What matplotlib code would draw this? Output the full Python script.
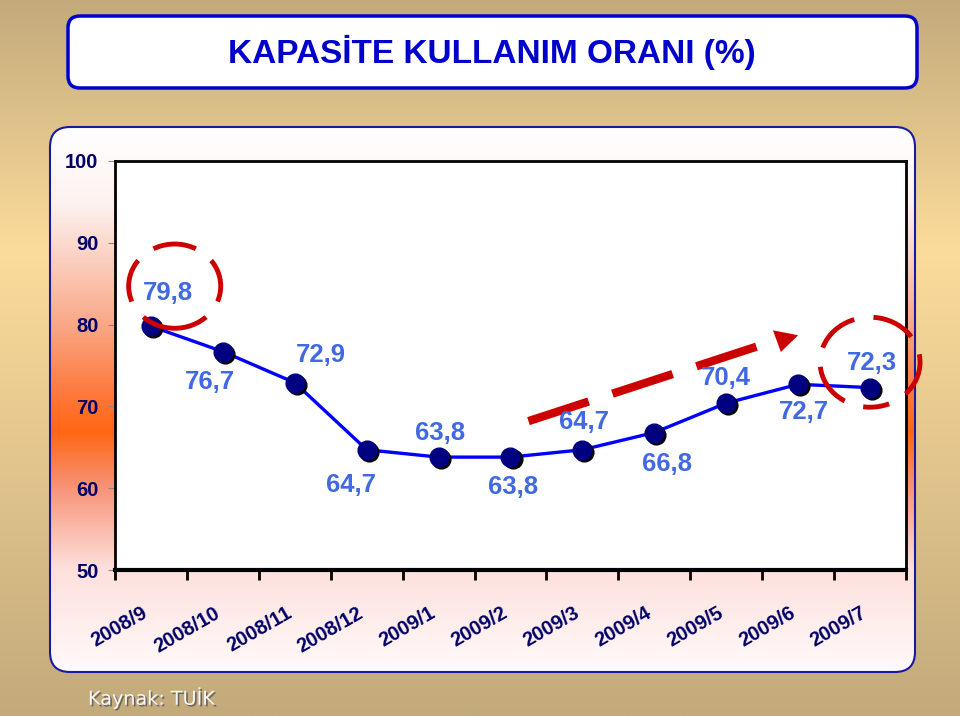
import numpy as np
import matplotlib.pyplot as plt
import matplotlib.patheffects as pe
from matplotlib.patches import FancyBboxPatch, Ellipse, Polygon
from matplotlib.colors import to_rgb
import matplotlib.transforms as mtransforms

months = ['2008/9', '2008/10', '2008/11', '2008/12', '2009/1', '2009/2',
          '2009/3', '2009/4', '2009/5', '2009/6', '2009/7']
usage = [79.8, 76.7, 72.9, 64.7, 63.8, 63.8, 64.7, 66.8, 70.4, 72.7, 72.3]
value_labels = ['79,8', '76,7', '72,9', '64,7', '63,8', '63,8',
                '64,7', '66,8', '70,4', '72,7', '72,3']
yticks = [50, 60, 70, 80, 90, 100]

# label offsets in pixels (dx, dy up positive)
label_offsets = [(17, 33), (-13, -30), (26, 28), (-16, -35), (1, 24), (3, -30),
                 (2, 28), (13, -31), (0, 25), (6, -28), (2, 25)]

W, H = 960, 716
FONT = ['Liberation Sans Narrow', 'Arial Narrow', 'Liberation Sans', 'DejaVu Sans']


def fx(px):
    return px / W


def fy(py):
    return 1 - py / H


def gradient(stops, colors, n=400):
    t = np.linspace(0, 1, n)
    rgb = np.array([to_rgb(c) for c in colors])
    g = np.stack([np.interp(t, stops, rgb[:, k]) for k in range(3)], axis=1)
    return g[:, None, :]


fig = plt.figure(figsize=(9.6, 7.16), dpi=100)

# tan page background
bg = fig.add_axes([0, 0, 1, 1])
bg.set_axis_off()
bg.set_xlim(0, W)
bg.set_ylim(H, 0)
bg.imshow(gradient([0, 0.35, 1], ['#c3aa7b', '#fcdc9c', '#c3aa7b']),
          extent=[0, W, H, 0], aspect='auto', zorder=0)

# title box
title_box = FancyBboxPatch((68, 16), 849, 72, boxstyle='round,pad=0,rounding_size=12',
                           fc='white', ec='#0000cc', lw=2.5, zorder=2)
bg.add_patch(title_box)
bg.text(492, 52, 'KAPASİTE KULLANIM ORANI (%)', ha='center', va='center',
        fontsize=24, fontweight='bold', color='#0000cc', family=FONT, zorder=3)

# chart panel with vertical gradient
panel = FancyBboxPatch((50, 127), 865, 545, boxstyle='round,pad=0,rounding_size=20',
                       fc='none', ec='#1a1aa0', lw=1.5, zorder=3)
bg.add_patch(panel)
pstops = [0, 0.14, 0.36, 0.5, 0.56, 0.66, 0.81, 1]
pcols = ['#ffffff', '#fdf2f0', '#f9a888', '#ff7535', '#ff6614', '#f89276', '#fde0dc', '#fffafa']
img = bg.imshow(gradient(pstops, pcols), extent=[50, 915, 672, 127], aspect='auto', zorder=1)
img.set_clip_path(FancyBboxPatch((50, 127), 865, 545, boxstyle='round,pad=0,rounding_size=20',
                                 transform=bg.transData))

bg.text(88, 698, 'Kaynak: TUİK', fontsize=13.8, color='#f6f6f6', va='center',
        family='DejaVu Sans', zorder=4,
        path_effects=[pe.SimplePatchShadow(offset=(1.2, -1.2), shadow_rgbFace='#555555', alpha=0.8),
                      pe.Normal()])

# main chart
ax = fig.add_axes([fx(115), fy(570), fx(906) - fx(115), fy(161) - fy(570)])
ax.set_facecolor('white')
x = np.arange(len(months))
ax.plot(x, usage, color='#0000ff', lw=2.4, zorder=3)
shadow = mtransforms.offset_copy(ax.transData, fig=fig, x=2, y=-2, units='dots')
ax.plot(x, usage, 'o', ms=13.5, color='black', transform=shadow, zorder=4)
ax.plot(x, usage, 'o', ms=13.5, color='#000080', zorder=5)

for xi, yi, lab, (dx, dy) in zip(x, usage, value_labels, label_offsets):
    ax.annotate(lab, (xi, yi), xytext=(dx * 0.72, dy * 0.72), textcoords='offset points',
                ha='center', va='center', fontsize=18.5, fontweight='bold',
                color='#4169e1', family=FONT, zorder=6)

ax.set_xlim(-0.5, len(months) - 0.5)
ax.set_ylim(50, 100)
ax.set_yticks(yticks)
ax.set_yticklabels([str(v) for v in yticks], fontsize=14.5, fontweight='bold',
                   color='#000066', family=FONT)
ax.tick_params(axis='y', length=5, color='#888888', pad=7)
ax.set_xticks(x)
ax.set_xticklabels(months, rotation=30, ha='right', fontsize=14.5, fontweight='bold',
                   color='#000066', family=FONT)
ax.tick_params(axis='x', which='major', length=0, pad=24)
ax.set_xticks(np.arange(-0.5, len(months)), minor=True)
ax.tick_params(axis='x', which='minor', length=7, width=2, color='black')
for s in ax.spines.values():
    s.set_linewidth(2)
    s.set_color('black')
ax.spines['bottom'].set_linewidth(3)

# red dashed circles and trend arrow
red = '#cc0000'
ax.add_patch(Ellipse((0.33, 84.7), 1.28, 10.3, fill=False, ec=red, lw=3.5,
                     ls=(2, (9, 4)), zorder=7, clip_on=False))
ax.add_patch(Ellipse((10.0, 75.4), 1.39, 11.0, fill=False, ec=red, lw=3.5,
                     ls=(5, (9, 4)), zorder=7, clip_on=False))
ax.plot([5.25, 8.42], [68.2, 77.3], color=red, lw=6, ls=(0, (7.6, 3.0)),
        solid_capstyle='butt', dash_capstyle='butt', zorder=2)
ax.add_patch(Polygon([[8.65, 79.3], [9.0, 78.7], [8.76, 76.65]], closed=True,
                     fc=red, ec='none', zorder=2))

fig.savefig('out.png', dpi=100)
